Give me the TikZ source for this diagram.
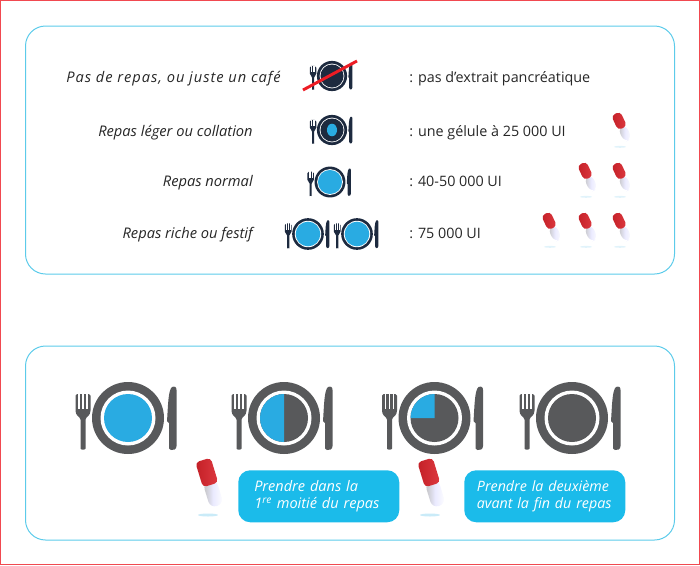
\documentclass[tikz,border=0pt]{standalone}
\usepackage{fontspec}
\setmainfont{Open Sans}
\definecolor{panelline}{HTML}{5CCBEA}
\definecolor{boxblue}{HTML}{1BBBEA}
\definecolor{mealblue}{HTML}{29ABE2}
\definecolor{greyplate}{HTML}{58595B}
\definecolor{navyplate}{HTML}{1D2A3F}
\definecolor{crossred}{HTML}{ED1C24}
\definecolor{capred}{HTML}{D9232B}
\tikzset{
  panel/.style={draw=panelline,line width=0.75pt,rounded corners=15pt},
  rowleft/.style={anchor=base east,inner sep=0pt,font=\fontsize{11}{13}\selectfont\itshape,text=black!85},
  rowright/.style={anchor=base west,inner sep=0pt,font=\fontsize{10.75}{13}\selectfont,text=black!85},
  tip/.style={fill=boxblue,rounded corners=9pt,text=white,align=left,anchor=north west,
    font=\fontsize{10.9}{13}\selectfont\itshape,inner sep=0pt,minimum width=120.75pt,minimum height=39pt,text width=120.75pt},
}
% #1 x, #2 y, #3 scale, #4 colour, #5 white ring radius, #6 what lies on the plate
\newcommand{\placesetting}[6]{%
  \begin{scope}[shift={(#1,#2)},scale=#3]
    \fill[#4] (0,0) circle (36);
    \fill[white] (0,0) circle (#5);
    % fork
    \fill[#4,rounded corners=1.2pt] (-52.5,-24) -- (-52.5,-9) .. controls (-52.5,-3) and (-49,-1) .. (-47.5,0)
      -- (-47.5,29) .. controls (-47.5,32) and (-42.5,32) .. (-42.5,29)
      -- (-42.5,0) .. controls (-41,-1) and (-37.5,-3) .. (-37.5,-9) -- (-37.5,-24) -- cycle;
    \fill[white] (-49.6,-25) rectangle (-48.3,-9);
    \fill[white] (-45.65,-25) rectangle (-44.35,-9);
    \fill[white] (-41.7,-25) rectangle (-40.4,-9);
    % knife
    \fill[#4] (43,32) .. controls (41,32) and (41,30) .. (41,28) -- (41,5) -- (39,3)
      .. controls (40,-10) and (40,-28) .. (44,-31) .. controls (47,-32) and (48.5,-31) .. (48.5,-28)
      -- (48.5,28) .. controls (48.5,32) and (45,32) .. (43,32) -- cycle;
    #6
  \end{scope}}
% #1 x, #2 y, #3 scale, #4 tilt, #5 opacity of shadow
\newcommand{\capsule}[5]{%
  \begin{scope}[shift={(#1,#2)},scale=#3,rotate=#4]
    \shade[left color=white!75!black,right color=white,middle color=white!92!blue,rounded corners=5pt]
      (-7,-2) rectangle (7,24);
    \shade[left color=capred!90!black,right color=capred!90!white,rounded corners=3pt]
      (-8,-24) rectangle (8,2);
  \end{scope}
  \fill[mealblue!35,opacity=#5] (#1-2,#2+32*#3) ellipse ({10*#3} and {1.5*#3});}
\begin{document}
\begin{tikzpicture}[x=0.75pt,y=-0.75pt]
\useasboundingbox (0,0) rectangle (700,565);
\draw[crossred!80,line width=0.75pt] (0.5,0.5) rectangle (699.5,564.5);

\draw[panel] (25.5,26) rectangle (674.5,274);
\draw[panel] (25.5,346) rectangle (674.5,540);

% row labels
\node[rowleft] (l1) at (281,82) {\addfontfeatures{LetterSpace=6.5}Pas de repas, ou juste un café};
\node[rowleft] (l2) at (253,136) {Repas léger ou collation};
\node[rowleft] (l3) at (253,186) {Repas normal};
\node[rowleft] (l4) at (253,238) {Repas riche ou festif};
\node[rowright] (r1) at (409,82) {: pas d’extrait pancréatique};
\node[rowright] (r2) at (409,136) {: une gélule à 25 000 UI};
\node[rowright] (r3) at (409,186) {: 40-50 000 UI};
\node[rowright] (r4) at (409,238) {: 75 000 UI};

% small settings
\placesetting{332}{76}{0.42}{navyplate}{29.5}{\fill[navyplate] (0,0) circle (27.5);}
\draw[crossred,line width=2.2pt] (303,90) -- (357,61);
\placesetting{332}{130}{0.42}{navyplate}{29.5}{\fill[navyplate] (0,0) circle (27.5);
  \fill[mealblue] (0,0) ellipse (12 and 15);}
\placesetting{330}{182}{0.43}{navyplate}{30}{\fill[mealblue] (0,0) circle (28);}
\placesetting{308}{234}{0.44}{navyplate}{30}{\fill[mealblue] (0,0) circle (28);}
\placesetting{357}{234}{0.44}{navyplate}{30}{\fill[mealblue] (0,0) circle (28);}

% small capsules
\capsule{622}{127}{0.62}{25}{0.4}
\capsule{588}{177}{0.62}{25}{0.4}
\capsule{622}{177}{0.62}{25}{0.4}
\capsule{552}{227}{0.62}{25}{0.4}
\capsule{588}{227}{0.62}{25}{0.4}
\capsule{622}{227}{0.62}{25}{0.4}

% large settings
\placesetting{128}{418}{1}{greyplate}{27.5}{\fill[mealblue] (0,0) circle (24);}
\placesetting{284}{418}{1}{greyplate}{27.5}{\fill[greyplate] (0,0) circle (24);
  \fill[mealblue] (0,-24) arc (-90:-270:24) -- cycle;}
\placesetting{434.5}{418}{1}{greyplate}{27.5}{\fill[greyplate] (0,0) circle (24);
  \fill[mealblue] (0,0) -- (0,-24) arc (-90:-180:24) -- cycle;}
\placesetting{572}{418}{1}{greyplate}{27.5}{\fill[greyplate] (0,0) circle (24);}

% large capsules
\capsule{210}{483}{1}{17}{0.7}
\capsule{432}{483}{1}{17}{0.7}

% advice boxes
\node[tip] (t1) at (238,470)
  {\hspace*{12pt}\parbox{105pt}{Prendre dans la\\1\textsuperscript{re} moitié du repas}};
\node[tip] (t2) at (464,470)
  {\hspace*{9.5pt}\parbox{108pt}{\fontsize{10.7}{13}\selectfont Prendre la deuxième\\avant la fin du repas}};
\end{tikzpicture}
\end{document}
